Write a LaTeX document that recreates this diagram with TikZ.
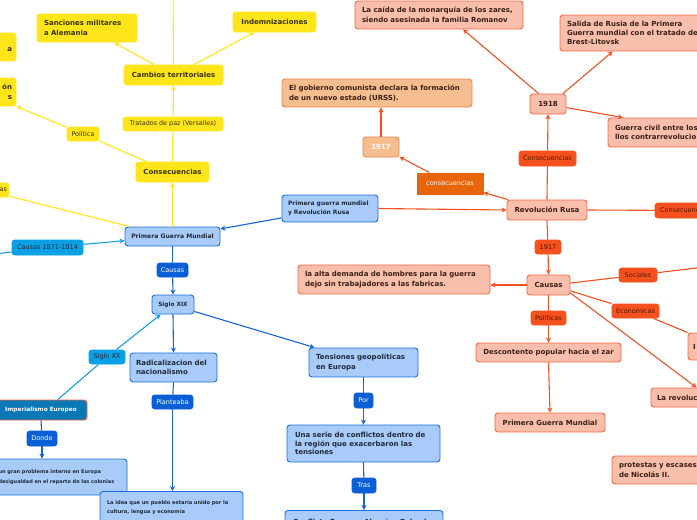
\documentclass[tikz,border=0pt]{standalone}
\usepackage{fontspec}
\setmainfont{DejaVu Sans}
\usetikzlibrary{arrows.meta}
\definecolor{yfill}{HTML}{FFE51A}
\definecolor{ytext}{HTML}{3A3300}
\definecolor{bfill}{HTML}{A8CBFA}
\definecolor{bdraw}{HTML}{1D6FDB}
\definecolor{btext}{HTML}{1E2A3C}
\definecolor{bline}{HTML}{1565D6}
\definecolor{cline}{HTML}{12A0E6}
\definecolor{clabel}{HTML}{0AA0E6}
\definecolor{dlabel}{HTML}{0A5FD6}
\definecolor{impfill}{HTML}{0A78B6}
\definecolor{impdraw}{HTML}{EE6A40}
\definecolor{sfill}{HTML}{F9BEAC}
\definecolor{sdraw}{HTML}{F36B45}
\definecolor{stext}{HTML}{3A1F14}
\definecolor{oline}{HTML}{F4511E}
\definecolor{rlabel}{HTML}{F4511E}
\definecolor{rtext}{HTML}{5A1800}
\definecolor{pfill}{HTML}{F6BE8F}
\definecolor{pdraw}{HTML}{F0844F}
\definecolor{dorange}{HTML}{E8650C}
\tikzset{
  bx/.style={rounded corners=3pt, line width=0.9pt, inner xsep=0pt, inner ysep=0pt,
    font=\bfseries\fontsize{7}{9.6}\selectfont},
  ybox/.style={bx, fill=yfill, draw=yfill, text=ytext},
  ylab/.style={bx, fill=yfill, draw=yfill, text=ytext, font=\fontsize{6.4}{8}\selectfont},
  bbox/.style={bx, fill=bfill, draw=bdraw, text=btext},
  clab/.style={bx, fill=clabel, draw=clabel, text=btext, font=\fontsize{6.5}{8}\selectfont},
  dlab/.style={bx, fill=dlabel, draw=dlabel, text=white, font=\fontsize{6.5}{8}\selectfont},
  sbox/.style={bx, fill=sfill, draw=sdraw, text=stext},
  pbox/.style={bx, fill=pfill, draw=pdraw, text=stext},
  rlab/.style={bx, fill=rlabel, draw=rlabel, text=rtext, font=\fontsize{6.5}{8}\selectfont},
  yl/.style={draw=yfill, line width=1.1pt},
  bl/.style={draw=bline, line width=1.1pt},
  cl/.style={draw=cline, line width=1.1pt},
  ol/.style={draw=oline, line width=1.1pt},
  arr/.style={-{Stealth[length=5pt,width=5pt]}},
}
\begin{document}
\begin{tikzpicture}[x=1pt,y=-1pt]
\useasboundingbox (0,0) rectangle (697,520);
\clip (0,0) rectangle (697,520);
\fill[white] (0,0) rectangle (697,520);

% ---------- yellow ----------
\node[ybox, minimum width=100pt, minimum height=28pt, text width=86pt, align=left] (sanc) at (87,28) {Sanciones militares\\a Alemania};
\node[ybox, minimum width=83pt, minimum height=20pt] (indem) at (274.5,22) {Indemnizaciones};
\node[ybox, minimum width=99pt, minimum height=20pt] (cambios) at (173.5,75) {Cambios territoriales};
\node[ybox, minimum width=90pt, minimum height=28pt, text width=82pt, align=right] (yl1) at (-29,47) {\mbox{}\\a};
\node[ybox, minimum width=90pt, minimum height=28pt, text width=82pt, align=right] (yl2) at (-29,92) {ón\\s};
\node[ylab, minimum width=32pt, minimum height=14pt] (politica) at (83,134) {Política};
\node[ylab, minimum width=100pt, minimum height=14pt] (tratados) at (173,124) {Tratados de paz (Versalles)};
\node[ybox, minimum width=73pt, minimum height=20pt] (consec) at (172.5,172) {Consecuencias};
\node[ylab, minimum width=58pt, minimum height=14pt, text width=54pt, align=right] (yl3) at (-20,190) {as};
\coordinate (ytop) at (173,-8);

\draw[yl,arr] (cambios.north) -- (ytop);
\draw[yl,arr] (cambios.152) -- (sanc.-28);
\draw[yl,arr] (cambios.27) -- (indem.207);
\draw[yl] (consec.north) -- (tratados);
\draw[yl,arr] (tratados) -- (cambios.south);
\draw[yl] (consec.158) -- (politica);
\draw[yl,arr] (politica) -- (yl2.south east);

% ---------- blue ----------
\node[bbox, minimum width=95pt, minimum height=19pt, font=\bfseries\fontsize{6.1}{8}\selectfont] (pgm) at (172.5,236.5) {Primera Guerra Mundial};
\node[clab, minimum width=71pt, minimum height=15pt] (c1871) at (47.5,247.5) {Causas 1871-1914};
\coordinate (cleft) at (-5,254);
\node[bbox, minimum width=96pt, minimum height=27pt, text width=84pt, align=left, font=\bfseries\fontsize{6}{9}\selectfont] (pgrr) at (330,208.5) {Primera guerra mundial\\y Revolución Rusa};
\node[dlab, minimum width=31pt, minimum height=14pt] (causasB) at (172.5,270) {Causas};
\node[bbox, minimum width=42pt, minimum height=19pt, font=\bfseries\fontsize{5.8}{7}\selectfont] (s19) at (173,304.5) {Siglo XIX};
\node[clab, minimum width=36pt, minimum height=14pt] (s20) at (107,357) {Siglo XX};
\node[bx, fill=impfill, draw=impdraw, text=white, minimum width=92pt, minimum height=20pt, font=\bfseries\fontsize{5.8}{8}\selectfont] (imp) at (41,410) {Imperialismo Europeo};
\node[bbox, minimum width=87pt, minimum height=29pt, text width=75pt, align=left] (radical) at (173.5,367.5) {Radicalizacion del\\nacionalismo};
\node[bbox, minimum width=109pt, minimum height=29pt, text width=95pt, align=left] (tension) at (363.5,362.5) {Tensiones geopolíticas\\en Europa};
\node[dlab, minimum width=30pt, minimum height=15pt] (donde) at (42,438.5) {Donde};
\node[bbox, minimum width=137pt, minimum height=36pt, text width=120pt, align=left, font=\bfseries\fontsize{5}{9.5}\selectfont] (probl) at (58.5,477) {un gran problema interno en Europa\\desigualdad en el reparto de las colonias};
\node[dlab, minimum width=41pt, minimum height=14pt] (plantea) at (172.5,402) {Planteaba};
\node[bbox, anchor=north, minimum width=143pt, text width=129pt, align=left, inner ysep=8.5pt, font=\bfseries\fontsize{5.1}{9.2}\selectfont] (idea) at (171.5,491) {La idea que un pueblo estaría unido por la\\cultura, lengua y economía\\\mbox{}};
\node[dlab, minimum width=19pt, minimum height=15pt] (por) at (363.5,400.5) {Por};
\node[bbox, minimum width=153pt, minimum height=37pt, text width=137pt, align=left, font=\bfseries\fontsize{7}{8.8}\selectfont] (serie) at (363.5,443.5) {Una serie de conflictos dentro de\\la región que exacerbaron las\\tensiones};
\node[dlab, minimum width=24pt, minimum height=15pt] (tras) at (364,485.5) {Tras};
\node[bbox, anchor=north, minimum width=158pt, text width=142pt, align=left, inner ysep=8.5pt, font=\bfseries\fontsize{7}{8.8}\selectfont] (confl) at (364,510) {Conflicto Franco - Alemán: Pelo al\\\mbox{}\\\mbox{}};

\draw[yl,arr] (pgm.north) -- (consec.south);
\draw[yl] (yl3.-12) -- (pgm.167);
\draw[cl] (cleft) -- (c1871);
\draw[cl,arr] (c1871) -- (pgm.185);
\draw[bl,arr] (pgrr.191) -- (pgm.9);
\draw[bl] (pgm.south) -- (causasB);
\draw[bl,arr] (causasB) -- (s19.north);
\draw[cl] (imp.32) -- (s20);
\draw[cl,arr] (s20) -- (s19.219);
\draw[bl,arr] (s19.south) -- (radical.north);
\draw[bl,arr] (s19.-18) -- (tension.163);
\draw[bl] (imp.south) -- (donde);
\draw[bl,arr] (donde) -- (donde |- probl.north);
\draw[bl] (radical.south) -- (plantea);
\draw[bl,arr] (plantea) -- (plantea |- idea.north);
\draw[bl] (tension.south) -- (por);
\draw[bl,arr] (por) -- (por |- serie.north);
\draw[bl] (serie.south) -- (tras);
\draw[bl,arr] (tras) -- (tras |- confl.north);

% ---------- orange ----------
\node[sbox, minimum width=80pt, minimum height=20pt] (rev) at (547,210) {Revolución Rusa};
\node[bx, rounded corners=0pt, fill=dorange, draw=dorange, text=white, minimum width=66pt, minimum height=21pt, font=\fontsize{6.5}{8}\selectfont] (consD) at (450,183.5) {consecuencias};
\node[pbox, minimum width=36pt, minimum height=20pt, text=white] (y1917) at (381,147) {1917};
\node[pbox, minimum width=190pt, minimum height=28pt, text width=176pt, align=left] (gob) at (377,93) {El gobierno comunista declara la formación\\de un nuevo estado (URSS).};
\node[rlab, minimum width=57pt, minimum height=15pt] (consR) at (547.5,158.5) {Consecuencias};
\node[sbox, minimum width=36pt, minimum height=20pt] (y1918) at (548,104) {1918};
\node[sbox, minimum width=168pt, minimum height=28pt, text width=154pt, align=left] (caida) at (439,15) {La caída de la monarquía de los zares,\\siendo asesinada la familia Romanov};
\node[sbox, minimum width=160pt, minimum height=36pt, text width=146pt, align=left, font=\bfseries\fontsize{7}{8.8}\selectfont] (salida) at (640,33) {Salida de Rusia de la Primera\\Guerra mundial con el tratado de\\Brest-Litovsk};
\node[sbox, minimum width=112pt, minimum height=29pt, text width=98pt, align=left] (gcivil) at (664,132.5) {Guerra civil entre los\\llos contrarrevolucio};
\node[rlab, minimum width=70pt, minimum height=15pt, text width=60pt, align=left] (consRR) at (690,210.5) {Consecuencias};
\node[rlab, minimum width=26pt, minimum height=14pt] (y1917b) at (548,247) {1917};
\node[sbox, minimum width=43pt, minimum height=20pt] (causasR) at (548.5,285) {Causas};
\node[sbox, minimum width=192pt, minimum height=29pt, text width=178pt, align=left] (alta) at (394,279.5) {la alta demanda de hombres para la guerra\\dejo sin trabajadores a las fabricas.};
\node[rlab, minimum width=38pt, minimum height=14pt] (soc) at (638,275) {Sociales};
\coordinate (socR) at (705,267);
\node[rlab, minimum width=47pt, minimum height=14pt] (eco) at (635.5,311) {Economicas};
\node[sbox, minimum width=72pt, minimum height=27pt, text width=62pt, align=left] (ebox) at (724,346.5) {I};
\node[sbox, minimum width=69pt, minimum height=19pt, text width=57pt, align=left] (revol) at (685.5,397.5) {La revolución};
\node[rlab, minimum width=35pt, minimum height=14pt] (polR) at (548.5,318) {Políticas};
\node[sbox, minimum width=145pt, minimum height=19pt] (desc) at (548.5,352.5) {Descontento popular hacia el zar};
\node[sbox, minimum width=110pt, minimum height=19pt] (pgmR) at (550,422.5) {Primera Guerra Mundial};
\node[sbox, minimum width=108pt, minimum height=28pt, text width=94pt, align=left] (prot) at (666,470) {protestas y escases\\de Nicolás II.};

\draw[ol,arr] (pgrr.east) -- (rev.west);
\draw[ol,arr] (rev.165) -- (consD.-15);
\draw[ol,arr] (consD.152) -- (y1917.-28);
\draw[ol,arr] (y1917.north) -- (gob.south -| y1917.north);
\draw[ol] (rev.north) -- (consR);
\draw[ol,arr] (consR) -- (y1918.south);
\draw[ol,arr] (y1918.132) -- (caida.-31);
\draw[ol,arr] (y1918.35) -- (salida.214);
\draw[ol,arr] (y1918.-11) -- (gcivil.160);
\draw[ol] (rev.east) -- (consRR);
\draw[ol] (rev.south) -- (y1917b);
\draw[ol,arr] (y1917b) -- (causasR.north);
\draw[ol,arr] (causasR.west) -- (causasR.west -| alta.east);
\draw[ol] (causasR.5) -- (soc);
\draw[ol] (soc) -- (socR);
\draw[ol] (causasR.-15) -- (eco);
\draw[ol] (eco) -- (ebox.north west);
\draw[ol,arr] (causasR.-20) -- (revol.42);
\draw[ol] (causasR.south) -- (polR);
\draw[ol,arr] (polR) -- (desc.north);
\draw[ol,arr] (desc.south) -- (pgmR.north);
\end{tikzpicture}
\end{document}
